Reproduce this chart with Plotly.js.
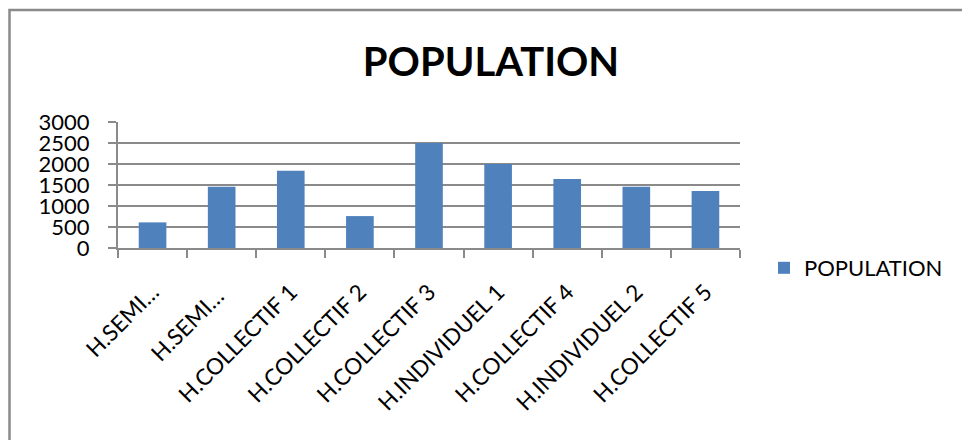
<!DOCTYPE html>
<html>
<head>
<meta charset="utf-8">
<script src="https://cdn.plot.ly/plotly-3.0.1.min.js"></script>
<style>
html,body{margin:0;padding:0;background:#fff;}
#chart{width:962px;height:440px;}
</style>
</head>
<body>
<div id="chart"></div>
<script>
var categories = ["H.SEMI…", "H.SEMI… ", "H.COLLECTIF 1", "H.COLLECTIF 2", "H.COLLECTIF 3", "H.INDIVIDUEL 1", "H.COLLECTIF 4", "H.INDIVIDUEL 2", "H.COLLECTIF 5"];
var population = [610, 1460, 1840, 760, 2500, 2000, 1640, 1460, 1360];
var yTicks = [0, 500, 1000, 1500, 2000, 2500, 3000];

var W = 962, H = 440;
var mL = 118, mR = 222, mT = 122, mB = 192;
var pw = W - mL - mR, ph = H - mT - mB;
function px2x(p){ return (p - mL) / pw; }
function py2y(p){ return (H - mB - p) / ph; }

var gray = '#8a8a8a';
var trace = {
  type: 'bar',
  x: categories,
  y: population,
  name: 'POPULATION',
  marker: {color: '#4F81BD'},
  showlegend: true
};

var layout = {
  width: W, height: H,
  margin: {l: mL, r: mR, t: mT, b: mB, autoexpand: false},
  paper_bgcolor: '#fff', plot_bgcolor: '#fff',
  font: {family: 'Lato, sans-serif', color: '#000', size: 22},
  title: {text: 'POPULATION', font: {family: 'Lato, sans-serif', size: 40, weight: 'bold', color: '#000'},
          x: 491 / W, xref: 'container', xanchor: 'center', y: 1 - 62 / H, yanchor: 'middle'},
  bargap: 0.6,
  xaxis: {
    type: 'category', tickson: 'boundaries', ticks: 'outside', ticklen: 8, tickwidth: 2, tickcolor: gray,
    showline: true, linecolor: gray, linewidth: 2, showgrid: false,
    tickangle: -45, tickfont: {size: 22.5}, ticklabelstandoff: 20
  },
  yaxis: {
    range: [0, 3000], tickvals: yTicks, ticktext: yTicks.map(String),
    ticks: 'outside', ticklen: 8, tickwidth: 2, tickcolor: gray,
    showline: true, linecolor: gray, linewidth: 2,
    showgrid: true, gridcolor: gray, gridwidth: 2, zeroline: false,
    tickfont: {size: 22}, ticklabelstandoff: 14
  },
  legend: {x: px2x(764), xanchor: 'left', y: py2y(268), yanchor: 'middle', font: {size: 22}, bgcolor: 'rgba(0,0,0,0)'},
  shapes: [{
    type: 'rect', xref: 'paper', yref: 'paper',
    x0: px2x(9.5), x1: px2x(1010), y0: py2y(480), y1: py2y(10),
    line: {color: gray, width: 2.5}, fillcolor: 'rgba(0,0,0,0)', layer: 'below'
  }]
};

Plotly.newPlot('chart', [trace], layout, {displayModeBar: false, staticPlot: true});
</script>
</body>
</html>
